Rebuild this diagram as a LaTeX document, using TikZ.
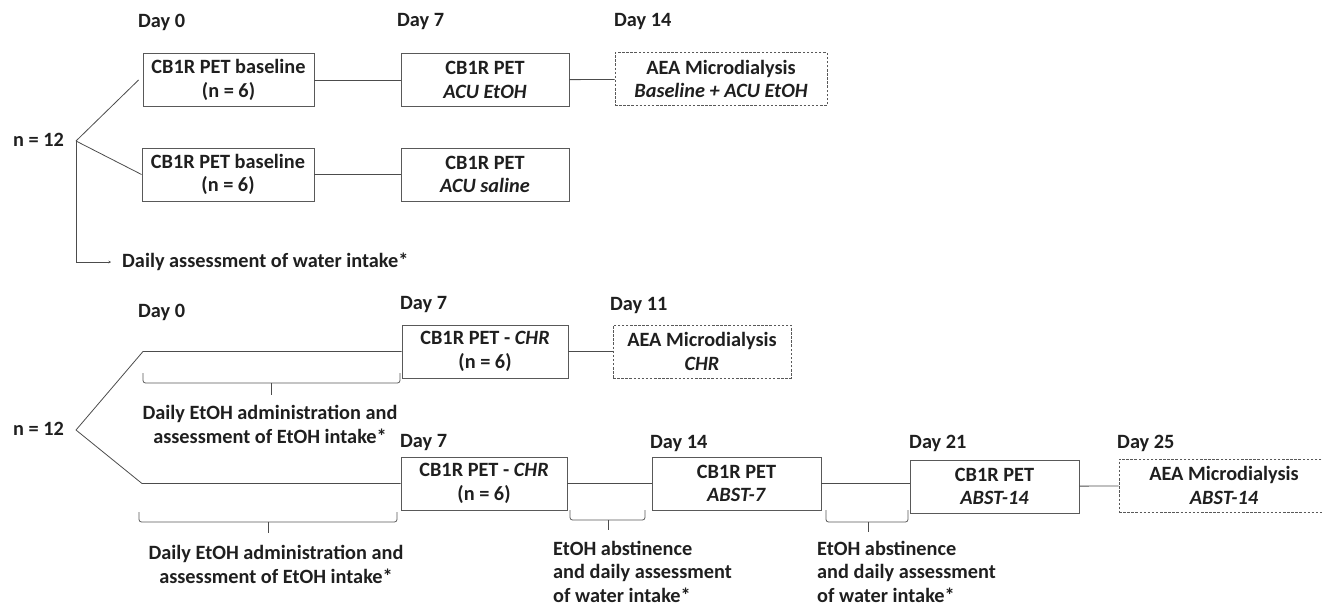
\documentclass[tikz,border=0pt]{standalone}
\usepackage{fontspec}
\setmainfont{Carlito}
\usetikzlibrary{arrows.meta}
\tikzset{
  txt/.style={font=\bfseries\fontsize{20.3}{23.5}\selectfont, text=black!88, inner sep=0pt},
  daylbl/.style={txt, anchor=west},
  box/.style={txt, draw=black!65, line width=0.9pt, align=center, minimum height=53pt},
  dbox/.style={box, dashed, dash pattern=on 2.5pt off 1.6pt},
  conn/.style={draw=black!70, line width=0.8pt},
  brace/.style={draw=black!65, line width=0.8pt, rounded corners=2.5pt},
  note/.style={txt, align=center},
  lnote/.style={txt, align=left, anchor=north west}
}
\begin{document}
\begin{tikzpicture}[x=1pt,y=-1pt]
\useasboundingbox (0,0) rectangle (1322,606);
\begin{scope}
\clip (0,0) rectangle (1322,606);
% ---------- top section ----------
\node[daylbl] (d0a) at (138,22) {Day 0};
\node[daylbl] (d7a) at (397,22) {Day 7};
\node[daylbl] (d14a) at (614,22) {Day 14};

\node[box, minimum width=171pt] (b1) at (228.5,80) {CB1R PET baseline\\(n = 6)};
\node[box, minimum width=168pt] (b2) at (485,80) {CB1R PET\\\textit{ACU EtOH}};
\node[dbox, minimum width=212pt] (b3) at (721,79) {AEA Microdialysis\\\textit{Baseline + ACU EtOH}};
\node[box, minimum width=172pt] (b4) at (228,174.5) {CB1R PET baseline\\(n = 6)};
\node[box, minimum width=168pt] (b5) at (485,174.5) {CB1R PET\\\textit{ACU saline}};

\node[txt, anchor=west] (n1) at (13,140) {n = 12};
\coordinate (s1) at (76,141);
\node[txt, anchor=west] (water) at (122,262) {Daily assessment of water intake*};

\draw[conn] (b1) -- (b2);
\draw[conn] (b2) -- (b3);
\draw[conn] (b4) -- (b5);
\draw[conn] (s1) -- ([xshift=-4pt]b1.west);
\draw[conn] (s1) -- (b4.west);
\draw[conn, -{Stealth[length=2.5pt,width=2.5pt]}, shorten >=11pt] (s1) |- (water.west);

% ---------- bottom section ----------
\node[daylbl] (d0b) at (138,312) {Day 0};
\node[daylbl] (d7b) at (400,305) {Day 7};
\node[daylbl] (d11b) at (610,305) {Day 11};
\node[daylbl] (d7c) at (400,443) {Day 7};
\node[daylbl] (d14c) at (650,443) {Day 14};
\node[daylbl] (d21c) at (909,443) {Day 21};
\node[daylbl] (d25c) at (1117,443) {Day 25};

\node[box, minimum width=166pt] (c1) at (485,351.5) {CB1R PET - \textit{CHR}\\(n = 6)};
\node[dbox, minimum width=178pt] (c2) at (702,351.5) {AEA Microdialysis\\\textit{CHR}};
\node[box, minimum width=166pt] (e1) at (484,483.5) {CB1R PET - \textit{CHR}\\(n = 6)};
\node[box, minimum width=169pt] (e2) at (736.5,483.5) {CB1R PET\\\textit{ABST-7}};
\node[box, minimum width=169pt] (e3) at (994.5,486.5) {CB1R PET\\\textit{ABST-14}};
\node[dbox, minimum width=210pt] (e4) at (1224,485.5) {AEA Microdialysis\\\textit{ABST-14}};

\node[txt, anchor=west] (n2) at (13,429) {n = 12};
\coordinate (s2) at (76,430);
\coordinate (k1) at (143,351.5);
\coordinate (k2) at (142,483.5);

\draw[conn] (s2) -- (k1) -- (c1.west);
\draw[conn] (s2) -- (k2) -- (e1.west);
\draw[conn] (c1) -- (c2);
\draw[conn] (e1) -- (e2);
\draw[conn] (e2.east) -- (e3.west |- e2.east);
\draw[conn] (e3) -- (e4);

% braces
\draw[brace] (143,373) -- (143,383) -- (400,383) -- (400,373);
\draw[conn] (271.5,383) -- (271.5,395);
\draw[brace] (139,512) -- (139,522) -- (397,522) -- (397,512);
\draw[conn] (268,522) -- (268,533);
\draw[brace] (570,510) -- (570,520) -- (645,520) -- (645,510);
\draw[conn] (608,520) -- (608,530);
\draw[brace] (826,510) -- (826,522) -- (908,522) -- (908,510);
\draw[conn] (868,522) -- (868,532);

\node[note] (t1) at (270,424.5) {Daily EtOH administration and\\assessment of EtOH intake*};
\node[note] (t2) at (276,564.5) {Daily EtOH administration and\\assessment of EtOH intake*};
\node[lnote] (t3) at (553,541) {EtOH abstinence\\and daily assessment\\of water intake*};
\node[lnote] (t4) at (817,541) {EtOH abstinence\\and daily assessment\\of water intake*};
\end{scope}
\end{tikzpicture}
\end{document}
